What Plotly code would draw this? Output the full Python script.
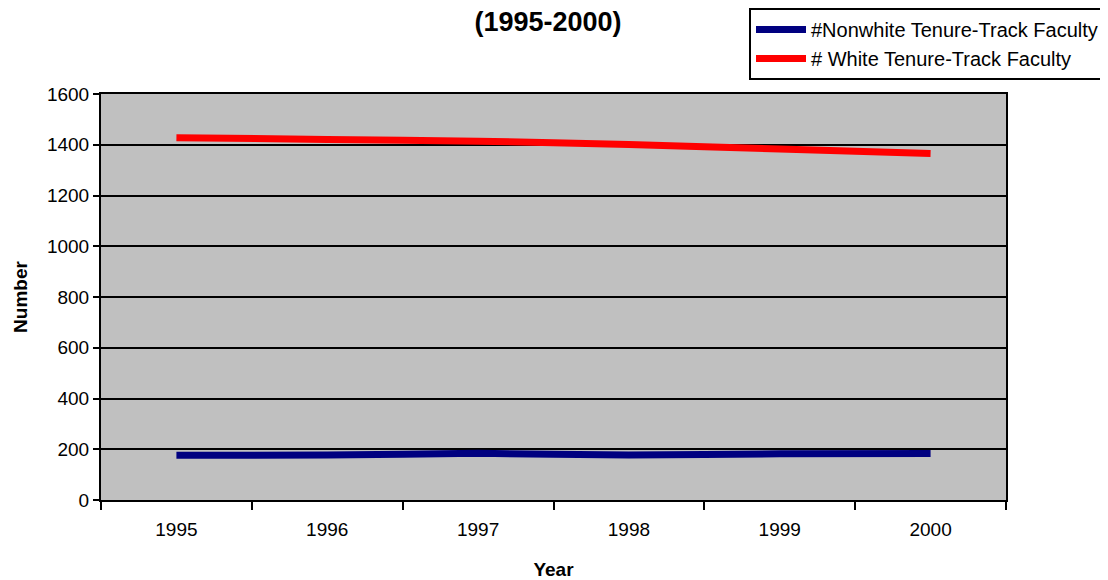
import plotly.graph_objects as go

years = ["1995", "1996", "1997", "1998", "1999", "2000"]
nonwhite = [176, 177, 184, 177, 182, 183]
white = [1428, 1421, 1414, 1401, 1383, 1366]
y_ticks = [0, 200, 400, 600, 800, 1000, 1200, 1400, 1600]

FONT = "Liberation Sans, Arial, sans-serif"
W, H = 1100, 572  # page body adds an 8px offset

fig = go.Figure()
fig.add_trace(go.Scatter(x=years, y=nonwhite, mode="lines", name="#Nonwhite Tenure-Track Faculty",
                         legendgroup="a",
                         line=dict(color="#000080", width=7, shape="spline", smoothing=0.5)))
fig.add_trace(go.Scatter(x=years, y=white, mode="lines", name="# White Tenure-Track Faculty",
                         legendgroup="b",
                         line=dict(color="#FF0000", width=7, shape="spline", smoothing=0.5)))

fig.update_layout(
    width=W, height=H,
    margin=dict(l=93, r=102, t=86, b=80, autoexpand=False),
    paper_bgcolor="white",
    plot_bgcolor="#C0C0C0",
    font=dict(family=FONT, size=19, color="black"),
    title=dict(text="<b>(1995-2000)</b>", x=(548 - 8) / W, xanchor="center", xref="container",
               y=1.0, yanchor="top", yref="container", pad=dict(t=4),
               font=dict(family=FONT, size=27, color="black")),
    legend=dict(x=(749 - 8) / W, y=1.0, xanchor="left", yanchor="top",
                xref="container", yref="container",
                bordercolor="black", borderwidth=2, bgcolor="white",
                font=dict(family=FONT, size=20, color="black"),
                tracegroupgap=0, itemwidth=50),
    showlegend=True,
)
fig.update_xaxes(
    type="category", range=[-0.5, 5.5], tickson="boundaries",
    ticks="outside", ticklen=8, tickwidth=2, tickcolor="black",
    showline=True, linecolor="black", linewidth=2, mirror=True,
    showgrid=False, tickfont=dict(size=19), automargin=False,
    ticklabelstandoff=11,
    title=dict(text="<b>Year</b>", font=dict(size=19), standoff=28),
)
fig.update_yaxes(
    range=[0, 1600], tickvals=y_ticks,
    ticks="outside", ticklen=6, tickwidth=2, tickcolor="black",
    showline=True, linecolor="black", linewidth=2, mirror=True,
    showgrid=True, gridcolor="black", gridwidth=2, zeroline=False,
    tickfont=dict(size=19), automargin=False,
    title=dict(text="<b>Number</b>", font=dict(size=19), standoff=14),
)

fig.write_html("out.html")
